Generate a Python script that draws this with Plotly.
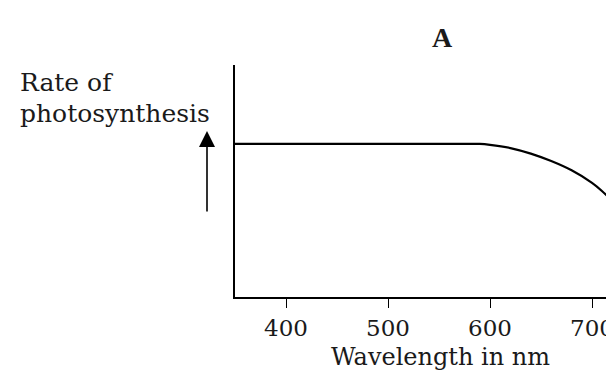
import plotly.graph_objects as go

# Data (wavelength in nm, relative rate of photosynthesis)
wavelength = [350, 400, 450, 500, 550, 580, 590, 600, 620, 640, 660, 680, 700, 710, 720, 730]
rate = [66, 66, 66, 66, 66, 66, 66, 65.6, 64.2, 61.8, 58.6, 54.6, 49.2, 45.6, 41.2, 35.6]
tick_vals = [400, 500, 600, 700]
tick_text = ["400", "500", "600", "700"]

FONT = "DejaVu Serif"
TXT = "#1a1a1a"
W, H = 614, 374
ML, MR, MT, MB = 227, 0, 57, 85
PW = W - ML - MR
PH = H - MT - MB


def px(xp):
    return (xp - ML) / PW


def py(yp):
    return (H - MB - yp) / PH


fig = go.Figure()
fig.add_trace(go.Scatter(
    x=wavelength, y=rate, mode="lines",
    line=dict(color="black", width=2.2, shape="spline", smoothing=0.6),
    hoverinfo="skip", showlegend=False,
))

fig.update_layout(
    width=W, height=H,
    margin=dict(l=ML, r=MR, t=MT, b=MB),
    paper_bgcolor="white", plot_bgcolor="white",
    showlegend=False,
    xaxis=dict(
        range=[350, 729.4], showgrid=False, zeroline=False,
        showline=True, linecolor="black", linewidth=1.8,
        ticks="outside", ticklen=9, tickwidth=1.3, tickcolor="black",
        tickvals=tick_vals, ticktext=tick_text,
        tickfont=dict(family=FONT, size=23, color=TXT),
    ),
    yaxis=dict(
        range=[0, 100], showgrid=False, zeroline=False,
        showline=True, linecolor="black", linewidth=1.8,
        showticklabels=False, ticks="",
    ),
)

annots = [
    dict(text="<b>A</b>", x=px(434), y=py(29), xref="paper", yref="paper",
         showarrow=False, font=dict(family="Liberation Serif", size=28, color=TXT),
         xanchor="center", yanchor="middle"),
    dict(text="Wavelength in nm", x=px(432), y=py(349), xref="paper", yref="paper",
         showarrow=False, font=dict(family=FONT, size=24, color=TXT),
         xanchor="center", yanchor="middle"),
    dict(text="Rate of", x=px(10), y=py(74), xref="paper", yref="paper",
         showarrow=False, font=dict(family=FONT, size=25, color=TXT),
         xanchor="left", yanchor="middle"),
    dict(text="photosynthesis", x=px(10), y=py(106), xref="paper", yref="paper",
         showarrow=False, font=dict(family=FONT, size=25, color=TXT),
         xanchor="left", yanchor="middle"),
    dict(text="Rate of", x=px(608), y=py(74), xref="paper", yref="paper",
         showarrow=False, font=dict(family=FONT, size=25, color=TXT),
         xanchor="left", yanchor="middle"),
    dict(text="Photosynthesis", x=px(608), y=py(106), xref="paper", yref="paper",
         showarrow=False, font=dict(family=FONT, size=25, color=TXT),
         xanchor="left", yanchor="middle"),
    dict(text="", x=px(199), y=py(123), ax=0, ay=82, xref="paper", yref="paper",
         showarrow=True, arrowhead=2, arrowsize=2, arrowwidth=1.6, arrowcolor="black"),
]
fig.update_layout(annotations=annots)

fig.write_html("out.html")
